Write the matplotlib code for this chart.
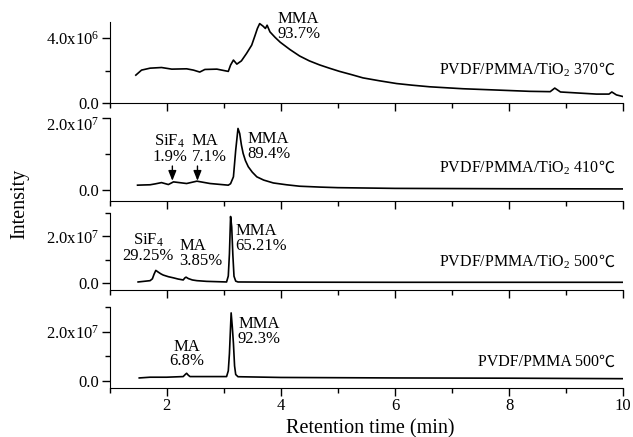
import numpy as np
import matplotlib
matplotlib.use("Agg")
import matplotlib.pyplot as plt
import matplotlib.transforms as mtransforms
from matplotlib.ticker import FixedLocator, MultipleLocator

plt.rcParams['font.family'] = ['Liberation Serif', 'DejaVu Serif']
plt.rcParams['mathtext.fontset'] = 'custom'
plt.rcParams['mathtext.rm'] = 'Liberation Serif'
plt.rcParams['mathtext.it'] = 'Liberation Serif:italic'
plt.rcParams['font.size'] = 12

# PVDF/PMMA/TiO2 at 370 C (intensity in units of 1e6)
t370 = [1.46, 1.56, 1.71, 1.91, 2.09, 2.35, 2.47, 2.58, 2.67, 2.88, 3.08, 3.12, 3.17,
        3.23, 3.31, 3.40, 3.49, 3.55, 3.59, 3.63, 3.69, 3.73, 3.76, 3.81, 3.90, 3.99,
        4.16, 4.33, 4.50, 4.68, 4.85, 5.03, 5.24, 5.44, 5.73, 6.03, 6.30, 6.61, 6.90,
        7.19, 7.78, 8.36, 8.72, 8.80, 8.90, 9.53, 9.75, 9.80, 9.88, 10.05]
i370 = [1.72, 2.03, 2.15, 2.19, 2.09, 2.11, 2.03, 1.91, 2.07, 2.09, 1.95, 2.34, 2.65,
        2.40, 2.60, 3.06, 3.57, 4.18, 4.60, 4.90, 4.74, 4.60, 4.80, 4.39, 4.05, 3.75,
        3.30, 2.90, 2.60, 2.35, 2.15, 1.95, 1.75, 1.55, 1.37, 1.20, 1.10, 1.00, 0.94,
        0.88, 0.80, 0.72, 0.70, 0.92, 0.68, 0.55, 0.55, 0.68, 0.50, 0.35]

# PVDF/PMMA/TiO2 at 410 C
t410 = [1.49, 1.60, 1.71, 1.80, 1.91, 2.03, 2.12, 2.35, 2.53, 2.76, 3.08, 3.12, 3.17,
        3.21, 3.25, 3.28, 3.31, 3.34, 3.38, 3.43, 3.50, 3.58, 3.70, 3.87, 4.10, 4.33,
        4.70, 5.0, 6.0, 7.0, 8.0, 9.0, 10.0]
i410 = [1.39, 1.45, 1.50, 1.75, 2.10, 1.57, 2.30, 1.85, 2.50, 1.85, 1.39, 1.80, 3.70,
        11.1, 17.1, 15.7, 12.5, 10.2, 8.2, 6.5, 5.0, 3.7, 2.8, 2.0, 1.5, 1.1,
        0.85, 0.7, 0.5, 0.45, 0.4, 0.38, 0.35]

# PVDF/PMMA/TiO2 at 500 C
t500 = [1.50, 1.71, 1.75, 1.78, 1.81, 1.85, 1.90, 1.94, 2.03, 2.12, 2.20, 2.29, 2.32,
        2.34, 2.38, 2.45, 2.53, 2.70, 3.05, 3.08, 3.10, 3.12, 3.14, 3.16, 3.18, 3.21,
        3.25, 4.0, 6.0, 8.0, 10.0]
i500 = [0.44, 1.0, 1.8, 3.8, 5.4, 4.7, 3.9, 3.4, 2.7, 2.2, 1.7, 1.3, 2.2,
        2.5, 1.9, 1.3, 1.0, 0.7, 0.44, 3.0, 12.5, 28.5, 24.0, 12.0, 2.9, 0.8,
        0.44, 0.35, 0.3, 0.3, 0.3]

# PVDF/PMMA at 500 C
tpm = [1.52, 1.71, 2.0, 2.29, 2.33, 2.35, 2.38, 2.41, 3.05, 3.08, 3.10, 3.13, 3.15,
       3.17, 3.19, 3.21, 3.25, 4.0, 6.0, 8.0, 10.0]
ipm = [1.1, 1.4, 1.4, 1.66, 2.6, 3.0, 2.2, 1.66, 1.66, 4.0, 11.0, 27.6, 22.0,
       15.2, 6.0, 2.5, 1.6, 1.3, 1.1, 1.0, 0.8]

series = [(t370, i370), (t410, i410), (t500, i500), (tpm, ipm)]
ylims = [(0, 5e6), (-3e6, 2e7), (-3e6, 3e7), (-3e6, 3e7)]
ymajor = [[0, 4e6], [0, 2e7], [0, 2e7], [0, 2e7]]
ylabels = [['0.0', '4.0x10$^6$'], ['0.0', '2.0x10$^7$'],
           ['0.0', '2.0x10$^7$'], ['0.0', '2.0x10$^7$']]
yminor = [2e6, 1e7, 1e7, 1e7]
samples = ['PVDF/PMMA/TiO$_2$ 370', 'PVDF/PMMA/TiO$_2$ 410',
           'PVDF/PMMA/TiO$_2$ 500', 'PVDF/PMMA 500']
sample_y = [2.0e6, 6.1e6, 0.9e7, 7.6e6]

# (bottom, height) of each panel in figure fraction
boxes = [(0.7643, 0.1854), (0.540, 0.190), (0.3364, 0.1762), (0.1121, 0.1854)]

fig = plt.figure(figsize=(6.33, 4.37), dpi=100)
axes = []
for k, (b, h) in enumerate(boxes):
    ax = fig.add_axes([0.1731, b, 0.8115, h])
    t, y = series[k]
    ax.plot(t, np.array(y) * 1e6, color='black', lw=1.2)
    ax.set_xlim(1, 10)
    ax.set_ylim(*ylims[k])
    for s in ['top', 'right']:
        ax.spines[s].set_visible(False)
    ax.xaxis.set_major_locator(MultipleLocator(2))
    ax.xaxis.set_minor_locator(MultipleLocator(1))
    ax.yaxis.set_major_locator(FixedLocator(ymajor[k]))
    ax.yaxis.set_minor_locator(MultipleLocator(yminor[k]))
    ax.set_yticklabels(ylabels[k])
    ax.tick_params(which='major', direction='out', length=6, width=1, labelsize=12, pad=1.5)
    ax.tick_params(which='minor', direction='out', length=3.5, width=1)
    if k < 3:
        ax.tick_params(axis='x', labelbottom=False)
    # degree sign drawn as its own text, sample name placed to its left
    deg = ax.text(9.85, sample_y[k], '\u2103', ha='right', va='center', fontsize=11.5,
                  family=['Noto Sans CJK SC', 'DejaVu Sans'])
    ax.annotate(samples[k], xy=(0, 0.5), xycoords=deg, ha='right', va='center',
                fontsize=11.5)
    axes.append(ax)

ax1, ax2, ax3, ax4 = axes

# top label of the second panel sits a little below its tick
shift = mtransforms.ScaledTranslation(0, -4 / 72, fig.dpi_scale_trans)
top_lab = ax2.get_yticklabels()[1]
top_lab.set_transform(top_lab.get_transform() + shift)

ax1.text(3.95, 4.74e6, 'MMA\n93.7%', ha='left', va='center', linespacing=0.9)

ax2.text(2.05, 1.14e7, 'SiF$_4$\n1.9%', ha='center', va='center', linespacing=0.95)
ax2.text(2.44, 1.14e7, 'MA\n7.1%', ha='left', va='center', linespacing=0.95)
ax2.text(3.42, 1.22e7, 'MMA\n89.4%', ha='left', va='center', linespacing=0.9)
for xa in [2.10, 2.54]:
    ax2.annotate('', xy=(xa, 2.6e6), xytext=(xa, 6.7e6),
                 arrowprops=dict(arrowstyle='-|>,head_width=0.2,head_length=0.5',
                                 color='black', lw=1, shrinkA=0, shrinkB=0))

ax3.text(1.68, 1.51e7, 'SiF$_4$\n29.25%', ha='center', va='center', linespacing=0.95)
ax3.text(2.22, 1.25e7, 'MA\n3.85%', ha='left', va='center', linespacing=0.9)
ax3.text(3.20, 1.89e7, 'MMA\n65.21%', ha='left', va='center', linespacing=0.9)

ax4.text(2.35, 1.1e7, 'MA\n6.8%', ha='center', va='center', linespacing=0.85)
ax4.text(3.62, 1.99e7, 'MMA\n92.3%', ha='center', va='center', linespacing=0.9)

ax4.set_xlabel('Retention time (min)', fontsize=14.5)
ax4.xaxis.set_label_coords(0.508, -0.38)
fig.text(0.032, 1 - 204 / 437, 'Intensity', rotation=90, ha='center', va='center',
         fontsize=14.5)

fig.savefig('out.png', dpi=100)
